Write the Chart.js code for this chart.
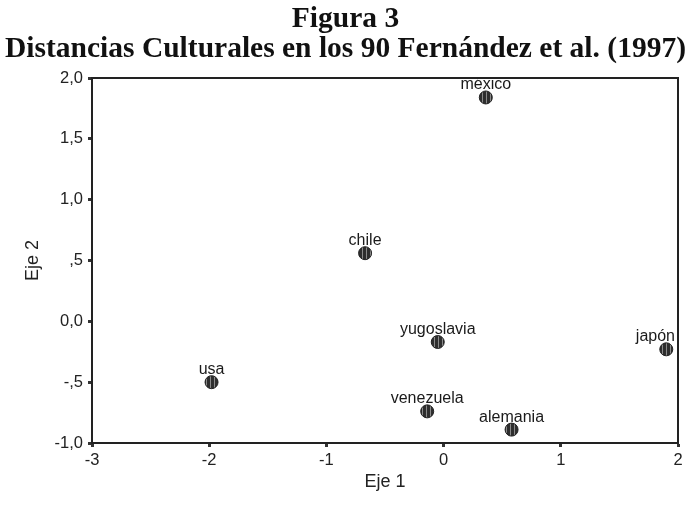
<!DOCTYPE html>
<html>
<head>
<meta charset="utf-8">
<script src="https://cdn.jsdelivr.net/npm/chart.js@4/dist/chart.umd.min.js"></script>
<style>
  html, body { margin: 0; padding: 0; background: #fff; }
  #wrap { width: 691px; height: 519px; }
</style>
</head>
<body>
<div id="wrap"><canvas id="c" width="691" height="519"></canvas></div>
<script>
// ---- data ----
const countries = ['méxico', 'chile', 'yugoslavia', 'usa', 'venezuela', 'alemania', 'japón'];
const eje1 = [0.36, -0.67, -0.05, -1.98, -0.14, 0.58, 1.90];
const eje2 = [1.84, 0.56, -0.17, -0.50, -0.74, -0.89, -0.23];
const xTicks = [-3, -2, -1, 0, 1, 2];
const xTickLabels = ['-3', '-2', '-1', '0', '1', '2'];
const yTicks = [-1, -0.5, 0, 0.5, 1, 1.5, 2];
const yTickLabels = ['-1,0', '-,5', '0,0', ',5', '1,0', '1,5', '2,0'];
const titleLines = ['Figura 3', 'Distancias Culturales en los 90 Fernández et al. (1997)'];
const xTitle = 'Eje 1';
const yTitle = 'Eje 2';

// hatched marker fill
const pc = document.createElement('canvas');
pc.width = 4; pc.height = 4;
const pctx = pc.getContext('2d');
pctx.fillStyle = '#2e2e2e'; pctx.fillRect(0, 0, 4, 4);
pctx.fillStyle = '#8a8a8a'; pctx.fillRect(2, 0, 1, 4);
const ctx = document.getElementById('c').getContext('2d');
const hatch = ctx.createPattern(pc, 'repeat');

const points = eje1.map((x, i) => ({ x: x, y: eje2[i] }));

const labelPlugin = {
  id: 'pointLabels',
  afterDatasetsDraw(chart) {
    const c = chart.ctx;
    const meta = chart.getDatasetMeta(0);
    const area = chart.chartArea;
    c.save();
    c.font = '16px "Liberation Sans", Arial, sans-serif';
    c.fillStyle = '#1a1a1a';
    c.textAlign = 'center';
    c.textBaseline = 'alphabetic';
    meta.data.forEach((el, i) => {
      const w = c.measureText(countries[i]).width;
      let cx = el.x;
      if (cx + w / 2 > area.right - 3) cx = area.right - 3 - w / 2;
      if (cx - w / 2 < area.left + 3) cx = area.left + 3 + w / 2;
      c.fillText(countries[i], cx, el.y - 8);
    });
    c.restore();
  }
};

const framePlugin = {
  id: 'frame',
  afterDraw(chart) {
    const a = chart.chartArea;
    const c = chart.ctx;
    c.save();
    c.strokeStyle = '#222';
    c.lineWidth = 2;
    c.strokeRect(a.left, a.top, a.right - a.left, a.bottom - a.top);
    c.restore();
  }
};

new Chart(ctx, {
  type: 'scatter',
  data: {
    datasets: [{
      data: points,
      backgroundColor: hatch,
      borderColor: '#222',
      borderWidth: 1,
      pointRadius: 6.5,
      pointHoverRadius: 6.5
    }]
  },
  options: {
    responsive: false,
    animation: false,
    events: [],
    layout: { padding: 0 },
    plugins: {
      legend: { display: false },
      tooltip: { enabled: false },
      title: {
        display: true,
        text: titleLines,
        color: '#111',
        font: { family: '"Liberation Serif", "Times New Roman", serif', size: 29.5, weight: 'bold', lineHeight: 1.0 },
        padding: { top: 5, bottom: 14 }
      }
    },
    scales: {
      x: {
        type: 'linear',
        min: -3, max: 2,
        afterBuildTicks(scale) { scale.ticks = xTicks.map(v => ({ value: v })); },
        afterFit(scale) { scale.height = 76; },
        ticks: {
          color: '#222',
          font: { family: '"Liberation Sans", Arial, sans-serif', size: 16.5 },
          padding: 4,
          maxRotation: 0,
          callback(v) { const i = xTicks.indexOf(v); return i >= 0 ? xTickLabels[i] : ''; }
        },
        grid: { drawOnChartArea: false, drawTicks: true, tickLength: 4, tickWidth: 3, color: '#333' },
        border: { display: true, color: '#222', width: 2 },
        title: {
          display: true, text: xTitle, color: '#222',
          font: { family: '"Liberation Sans", Arial, sans-serif', size: 18 },
          padding: { top: 0, bottom: 26 }
        }
      },
      y: {
        type: 'linear',
        min: -1, max: 2,
        afterBuildTicks(scale) { scale.ticks = yTicks.map(v => ({ value: v })); },
        afterFit(scale) { scale.width = 92; },
        ticks: {
          color: '#222',
          font: { family: '"Liberation Sans", Arial, sans-serif', size: 16.5 },
          padding: 5,
          callback(v) { const i = yTicks.indexOf(v); return i >= 0 ? yTickLabels[i] : ''; }
        },
        grid: { drawOnChartArea: false, drawTicks: true, tickLength: 4, tickWidth: 3, color: '#333' },
        border: { display: true, color: '#222', width: 2 },
        title: {
          display: true, text: yTitle, color: '#222',
          font: { family: '"Liberation Sans", Arial, sans-serif', size: 18 },
          padding: { top: 22, bottom: 0 }
        }
      },
      rightSpace: {
        type: 'linear',
        position: 'right',
        display: true,
        min: -1, max: 2,
        afterFit(scale) { scale.width = 13; },
        ticks: { display: false },
        grid: { display: false, drawTicks: false },
        border: { display: false }
      }
    }
  },
  plugins: [labelPlugin, framePlugin]
});
</script>
</body>
</html>
